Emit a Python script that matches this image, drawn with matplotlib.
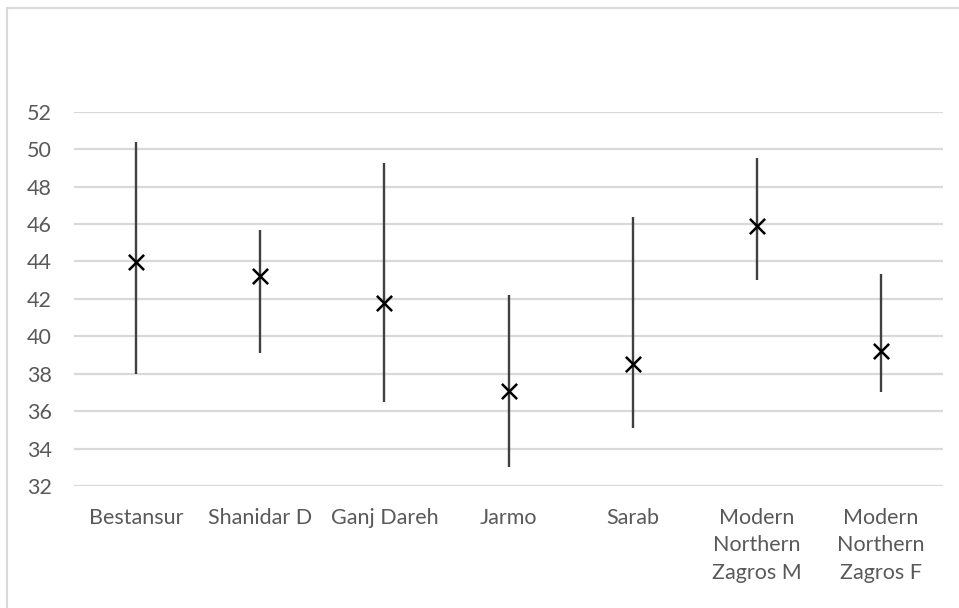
import matplotlib
matplotlib.use("Agg")
import matplotlib.pyplot as plt
from matplotlib.lines import Line2D
import numpy as np

plt.rcParams['font.family'] = ['Lato', 'DejaVu Sans']

# sites and the values
sites = ["Bestansur", "Shanidar D", "Ganj Dareh", "Jarmo", "Sarab",
         "Modern\nNorthern\nZagros M", "Modern\nNorthern\nZagros F"]
means = [43.95, 43.23, 41.76, 37.09, 38.5, 45.89, 39.23]
lows = [38.0, 39.1, 36.47, 33.0, 35.12, 43.02, 37.0]
highs = [50.4, 45.7, 49.26, 42.19, 46.39, 49.5, 43.33]
yticks = list(range(32, 53, 2))

GRID = "#d9d9d9"
TXT = "#595959"

fig = plt.figure(figsize=(9.59, 6.08), dpi=100)
ax = fig.add_axes([74/959, 1 - 486/608, (943-74)/959, (486-111.7)/608])

x = np.arange(len(sites))
ax.vlines(x, lows, highs, color="#404040", lw=1.7, zorder=3)
ax.scatter(x, means, marker="x", s=120, color="black", linewidths=1.8, zorder=4)

ax.set_xlim(-0.5, len(sites) - 0.5)
ax.set_ylim(32, 52)
ax.set_yticks(yticks)
ax.set_xticks(x)
ax.set_xticklabels(sites, linespacing=1.45)
ax.yaxis.grid(True, color=GRID, lw=1.6)
ax.set_axisbelow(True)
for s in ax.spines.values():
    s.set_visible(False)
ax.tick_params(axis="y", length=0, pad=16, labelsize=15.5, labelcolor=TXT)
ax.tick_params(axis="x", length=0, pad=16, labelsize=15.5, labelcolor=TXT)

# chart frame (only the top and left edges fall inside the picture)
fig.add_artist(Line2D([7/959, 7/959], [0, 1 - 8/608], transform=fig.transFigure, color=GRID, lw=1.5))
fig.add_artist(Line2D([7/959, 1], [1 - 8/608, 1 - 8/608], transform=fig.transFigure, color=GRID, lw=1.5))

fig.savefig("out.png", dpi=100)
